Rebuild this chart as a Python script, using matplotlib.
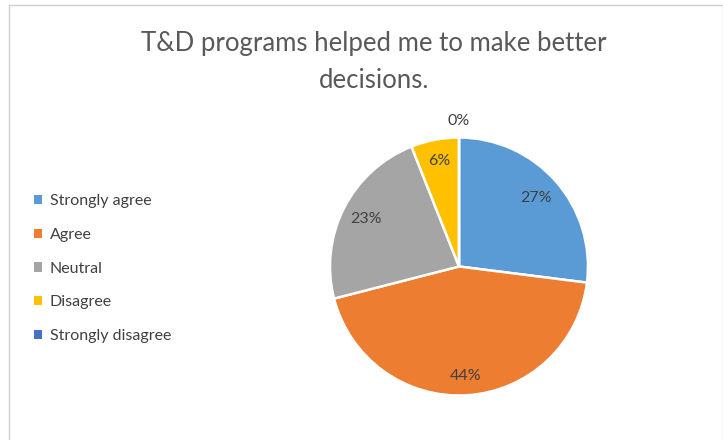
import numpy as np
import matplotlib
matplotlib.use("Agg")
import matplotlib.pyplot as plt
from matplotlib.patches import Rectangle

# survey answers
categories = ["Strongly agree", "Agree", "Neutral", "Disagree", "Strongly disagree"]
shares = [27, 44, 23, 6, 0]
colors = ["#5B9BD5", "#ED7D31", "#A5A5A5", "#FFC000", "#4472C4"]
title = "T&D programs helped me to make better\ndecisions."

plt.rcParams["font.family"] = ["Lato", "DejaVu Sans"]
text_color = "#404040"

W, H = 723, 440
fig = plt.figure(figsize=(W / 100, H / 100), dpi=100)
fig.patch.set_facecolor("white")

# chart area border
fig.add_artist(Rectangle((9 / W, -0.05), (W - 9) / W, (H - 5) / H + 0.05,
                         transform=fig.transFigure, fill=False,
                         edgecolor="#D0D0D0", linewidth=1.0))

fig.text(374 / W, 1 - 62 / H, title, ha="center", va="center",
         fontsize=18.5, color="#595959", linespacing=1.55)

# pie axes: centre (459, 266) px, radius 129 px
cx, cy, r = 459, 266.5, 129
ax = fig.add_axes([(cx - r) / W, (H - cy - r) / H, 2 * r / W, 2 * r / H])
wedges, _ = ax.pie(shares, colors=colors, startangle=90, counterclock=False,
                   radius=1.0,
                   wedgeprops=dict(edgecolor="white", linewidth=1.8))
ax.set_xlim(-1, 1)
ax.set_ylim(-1, 1)
ax.set_aspect("equal")
ax.axis("off")

# percentage labels, placed along each slice's mid angle
label_dist = [0.8, 0.85, 0.81, 0.83, 1.13]
for w, v, d in zip(wedges, shares, label_dist):
    mid = np.deg2rad((w.theta1 + w.theta2) / 2)
    ax.text(d * np.cos(mid), d * np.sin(mid), f"{v}%", ha="center", va="center",
            fontsize=11.5, color=text_color)

leg = fig.legend(wedges, categories, loc="upper left",
                 bbox_to_anchor=(20 / W, 1 - 180 / H), frameon=False,
                 fontsize=11.5, handlelength=0.5, handleheight=0.5,
                 handletextpad=0.45, labelspacing=1.23, labelcolor=text_color)
for h in leg.legend_handles:
    h.set_edgecolor("none")

fig.savefig("out.png", dpi=100)
